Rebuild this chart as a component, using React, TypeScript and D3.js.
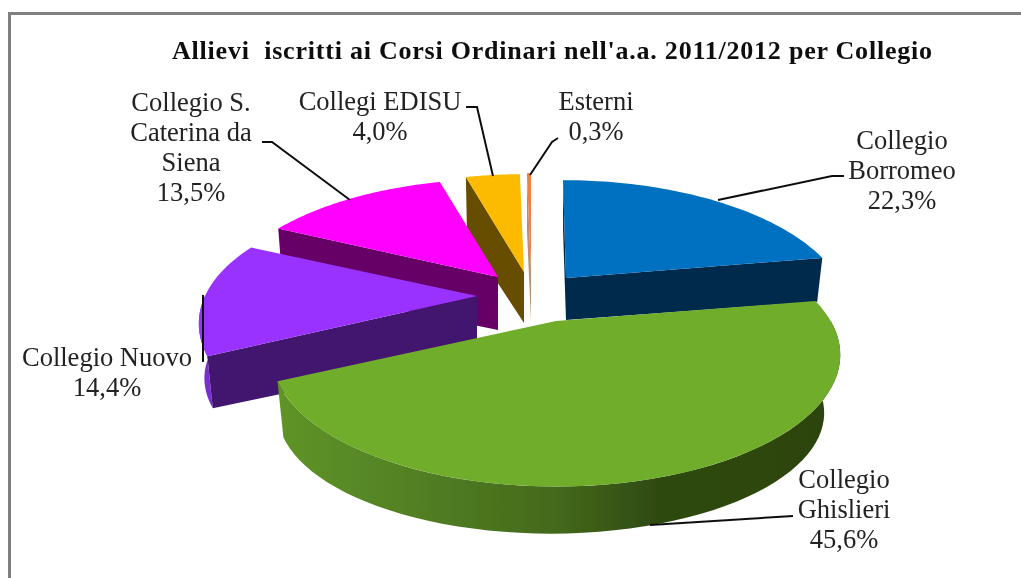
import React from "react";
import * as d3 from "d3";

const categories = ["Collegio Borromeo", "Collegio Ghislieri", "Collegio Nuovo", "Collegio S. Caterina da Siena", "Collegi EDISU", "Esterni"];
const values = [22.3, 45.6, 14.4, 13.5, 4.0, 0.3];
const topColors = ["#0070C0", "#70AD2C", "#9933FF", "#FF00FF", "#FDBB00", "#EE8040"];
const sideColors = ["#012B4C", "url(#greenSide)", "#42166E", "#660066", "#664D00", "#B89070"];
const apexX = [566, 556, 477, 498, 524, 531];
const apexY = [278, 321, 296, 277, 272, 271];
const depths = [42, 61, 57, 53, 51, 50];
const shears = [3, 0, 14, 0, 0, 0];
const widthScales = [1, 1.01, 1, 1, 1, 1];
const baseScalesX = [0.98, 0.961, 0.98, 0.98, 0.98, 0.98];
const baseShiftsX = [0, -5, 0, 0, 0, 0];
const drawOrder = [5, 4, 3, 2, 0, 1];
const labelLines = [
  ["Collegio", "Borromeo", "22,3%"],
  ["Collegio", "Ghislieri", "45,6%"],
  ["Collegio Nuovo", "14,4%"],
  ["Collegio S.", "Caterina da", "Siena", "13,5%"],
  ["Collegi EDISU", "4,0%"],
  ["Esterni", "0,3%"],
];
const labelX = [902, 844, 107, 191, 380, 596];
const labelBase = [149, 488, 366, 111, 110, 110];
const leaders: [number, number][][] = [
  [[718, 200], [832, 176], [844, 176]],
  [[650, 525], [793, 516]],
  [[203, 295], [203, 362]],
  [[350, 200], [272, 142], [262, 142]],
  [[493, 176], [477, 107], [466, 107]],
  [[530, 175], [552, 142], [558, 138]],
];
const title = "Allievi  iscritti ai Corsi Ordinari nell'a.a. 2011/2012 per Collegio";

const A = 272, B = 123, P = 0.257;
const BASE_Y = 0.916;
const FONT = "'Liberation Serif', serif";

function project(angle: number, ox: number, oy: number, shear: number, ws: number): [number, number] {
  const u = Math.sin(angle), v = -Math.cos(angle), w = 1 - P * v;
  return [ox + (A * ws * u) / w + shear * v, oy + (B * v) / w];
}
const line = d3.line<[number, number]>();

export default function App() {
  const arcs = d3.pie<number>().sort(null)(values);
  const rimAngles = (a0: number, a1: number) => d3.range(0, 61).map((i) => a0 + ((a1 - a0) * i) / 60);
  return (
    <svg width={1021} height={578} style={{ position: "absolute", left: 0, top: 0, background: "#fff" }}>
      <defs>
        <linearGradient id="greenSide" gradientUnits="userSpaceOnUse" x1={277} x2={837} y1={0} y2={0}>
          <stop offset="0" stopColor="#5F9428" />
          <stop offset="0.2" stopColor="#558424" />
          <stop offset="0.5" stopColor="#44691B" />
          <stop offset="0.68" stopColor="#2F4A11" />
          <stop offset="1" stopColor="#2C4310" />
        </linearGradient>
        <filter id="soft" filterUnits="userSpaceOnUse" x={0} y={0} width={1021} height={578}>
          <feGaussianBlur stdDeviation={0.5} />
        </filter>
      </defs>
      <g filter="url(#soft)">
        <path d="M9.5,578V13.5H1021" fill="none" stroke="#808080" strokeWidth={3} />
        <text x={552} y={59} textAnchor="middle" fontFamily={FONT} fontWeight="bold" fontSize={26} fill="#111" textLength={760} xmlSpace="preserve">{title}</text>
        {drawOrder.map((i) => {
          const a = arcs[i];
          const ox = apexX[i], oy = apexY[i], d = depths[i], sh = shears[i], ws = widthScales[i];
          const rim = rimAngles(a.startAngle, a.endAngle).map((t) => project(t, ox, oy, sh, ws));
          const top = line([[ox, oy], ...rim]) + "Z";
          const drop = (p: [number, number]): [number, number] => [
            ox + (p[0] - ox) * baseScalesX[i] + baseShiftsX[i],
            oy + d + (p[1] - oy) * BASE_Y,
          ];
          const r0 = Math.max(a.startAngle, Math.PI / 2), r1 = Math.min(a.endAngle, (3 * Math.PI) / 2);
          const rimPts = rimAngles(r0, r1).map((t) => project(t, ox, oy, sh, ws));
          const wall = r0 < r1 ? line([...rimPts, ...rimPts.slice().reverse().map(drop)]) + "Z" : null;
          const sP = project(a.startAngle, ox, oy, sh, ws);
          const eP = project(a.endAngle, ox, oy, sh, ws);
          const faceStart = i !== 1 ? line([[ox, oy], sP, drop(sP), [ox, oy + d]]) + "Z" : null;
          const faceEnd = i === 0 ? line([[ox, oy], eP, drop(eP), [ox, oy + d]]) + "Z" : null;
          return (
            <g key={categories[i]}>
              {faceEnd && <path d={faceEnd} fill={sideColors[i]} />}
              {wall && <path d={wall} fill={i === 2 ? "#7A2FD0" : sideColors[i]} />}
              {faceStart && <path d={faceStart} fill={sideColors[i]} />}
              <path d={top} fill={topColors[i]} />
            </g>
          );
        })}
        {leaders.map((pts, i) => (
          <path key={i} d={line(pts) || ""} fill="none" stroke="#111" strokeWidth={2} />
        ))}
        {labelLines.map((ls, i) => (
          <text key={i} textAnchor="middle" fontFamily={FONT} fontSize={26.5} fill="#222">
            {ls.map((s, j) => (
              <tspan key={j} x={labelX[i]} y={labelBase[i] + j * 30}>{s}</tspan>
            ))}
          </text>
        ))}
      </g>
    </svg>
  );
}
